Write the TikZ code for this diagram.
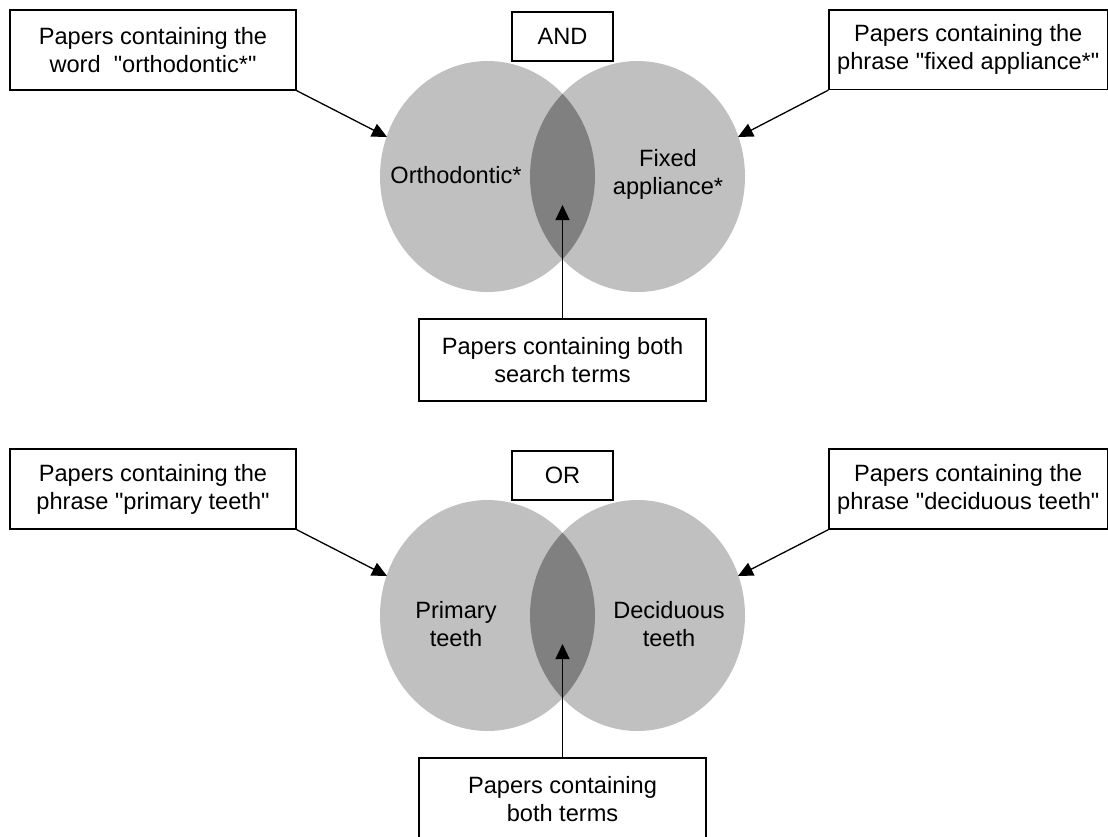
\documentclass[tikz,border=0pt]{standalone}
\usepackage{fontspec}
\setmainfont{Liberation Sans}[Ligatures=TeXOff]
\usetikzlibrary{arrows.meta}
\definecolor{venngray}{RGB}{192,192,192}
\definecolor{lensgray}{RGB}{128,128,128}
\newcommand{\dq}{\symbol{34}}

\begin{document}
\begin{tikzpicture}[x=0.5pt,y=-0.5pt,
        box/.style={draw,line width=0.65pt,align=center,inner sep=0pt,font=\fontsize{11.8}{14}\selectfont},
        lab/.style={align=center,inner sep=0pt,font=\fontsize{11.8}{14}\selectfont},
        arr/.style={line width=0.65pt,-{Triangle[length=7.5pt,width=7pt]}}]
    \useasboundingbox (0,0) rectangle (1108,836);

    % 上半部分: AND
    \coordinate (L1) at (487.5,176.5);
    \coordinate (R1) at (637.5,176.5);

    % 两个圆和交集
    \fill[venngray] (L1) ellipse [x radius=53.75pt, y radius=57.75pt];
    \fill[venngray] (R1) ellipse [x radius=53.75pt, y radius=57.75pt];
    \begin{scope}
        \clip (L1) ellipse [x radius=53.75pt, y radius=57.75pt];
        \fill[lensgray] (R1) ellipse [x radius=53.75pt, y radius=57.75pt];
    \end{scope}

    % 圆内文字
    \node[lab] (ortho) at (456,175) {Orthodontic*};
    \node[lab] (fixed) at (668,174) {Fixed\\appliance*};

    % 方框
    \node[box,minimum width=143pt,minimum height=40pt] (word) at (153,50)
        {Papers containing the\\word\ \ \dq orthodontic*\dq};
    \node[box,minimum width=139.25pt,minimum height=39.75pt] (phrase) at (968.25,49.75)
        {Papers containing the\\phrase \dq fixed appliance*\dq};
    \node[box,minimum width=50.5pt,minimum height=24.5pt] (and) at (562.5,36.5) {AND};
    \node[box,minimum width=143.5pt,minimum height=41pt] (both) at (562.5,360)
        {Papers containing both\\search terms};

    % 箭头
    \coordinate (tipL1) at (387,137);
    \coordinate (tipR1) at (738,137);
    \coordinate (tipM1) at (562.5,205);
    \draw[arr] (word.south east) -- (tipL1);
    \draw[arr] (phrase.south west) -- (tipR1);
    \draw[arr] (both.north) -- (tipM1);

    % 下半部分: OR
    \coordinate (L2) at (487.5,615.5);
    \coordinate (R2) at (637.5,615.5);

    \fill[venngray] (L2) ellipse [x radius=53.75pt, y radius=57.75pt];
    \fill[venngray] (R2) ellipse [x radius=53.75pt, y radius=57.75pt];
    \begin{scope}
        \clip (L2) ellipse [x radius=53.75pt, y radius=57.75pt];
        \fill[lensgray] (R2) ellipse [x radius=53.75pt, y radius=57.75pt];
    \end{scope}

    \node[lab] (primary) at (456,624) {Primary\\teeth};
    \node[lab] (decid) at (669,624) {Deciduous\\teeth};

    \node[box,minimum width=143pt,minimum height=40pt] (primbox) at (153,489)
        {Papers containing the\\phrase \dq primary teeth\dq};
    \node[box,minimum width=139.25pt,minimum height=40pt] (decidbox) at (968.25,489)
        {Papers containing the\\phrase \dq deciduous teeth\dq};
    \node[box,minimum width=50.5pt,minimum height=24.5pt] (or) at (562.5,475.5) {OR};
    \node[box,minimum width=143.5pt,minimum height=41pt] (both2) at (562.5,799)
        {Papers containing\\both terms};

    \coordinate (tipL2) at (387,576);
    \coordinate (tipR2) at (738,576);
    \coordinate (tipM2) at (562.5,644);
    \draw[arr] (primbox.south east) -- (tipL2);
    \draw[arr] (decidbox.south west) -- (tipR2);
    \draw[arr] (both2.north) -- (tipM2);

\end{tikzpicture}
\end{document}
